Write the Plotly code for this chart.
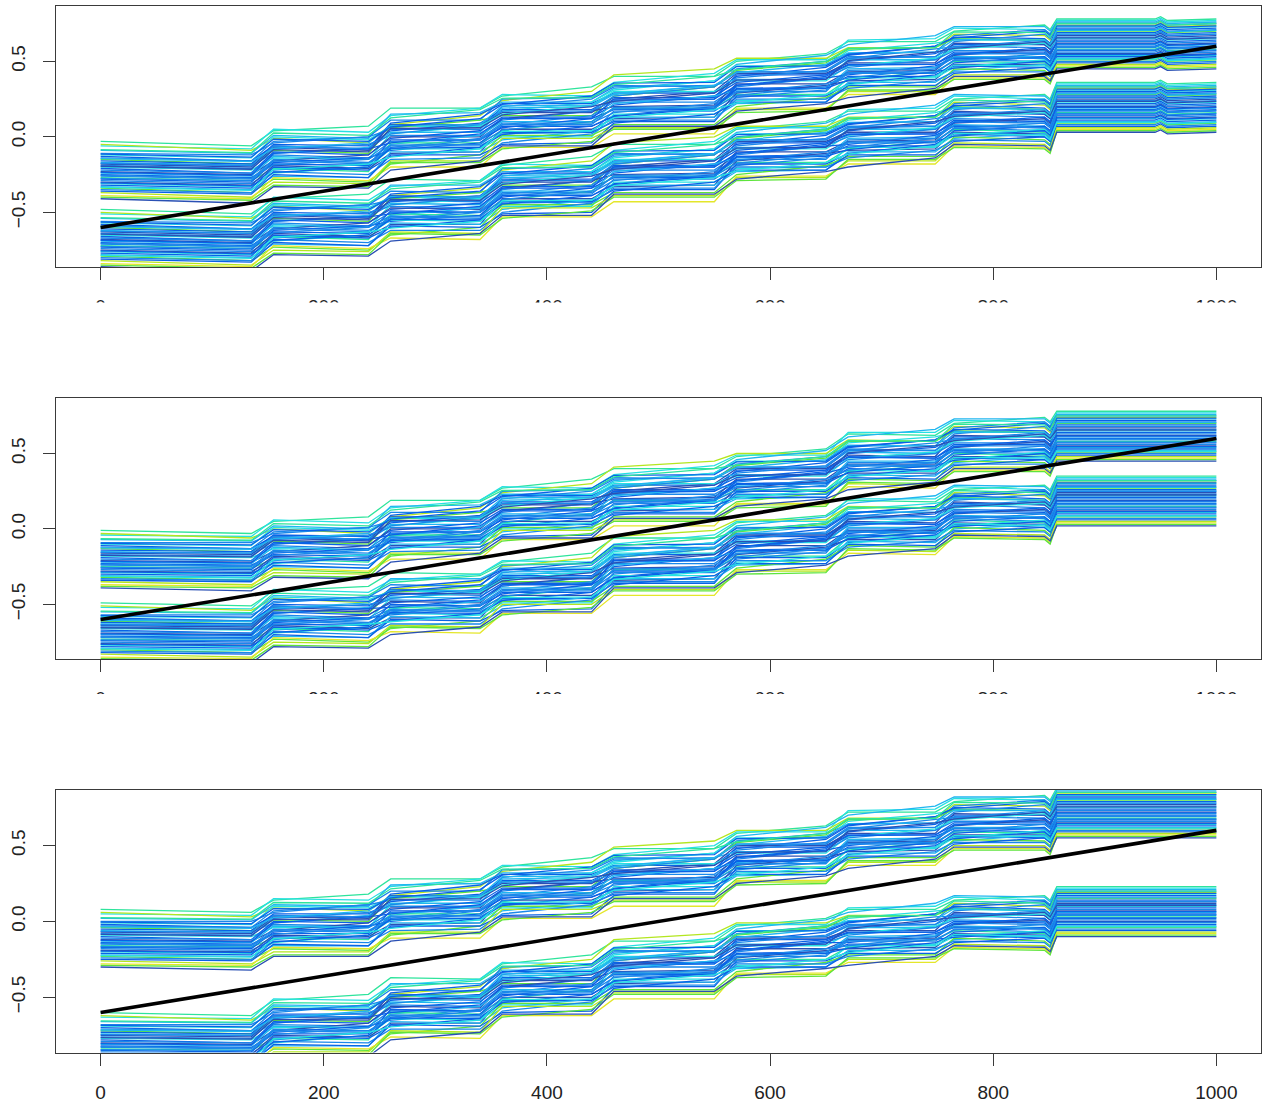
import plotly.graph_objects as go

# ---------------- data ----------------
# x positions where the band centres were read
KNOTS = [0, 135, 155, 240, 260, 340, 360, 440, 460, 550, 570, 650, 670, 748, 765,
         846, 851, 857, 872, 945, 950, 956, 1000]
# which offset column (plateau start / plateau end) each knot uses
COLUMN = [0, 1, 2, 3, 4, 5, 6, 7, 8, 9, 10, 11, 12, 13, 14, 15, 15, 16, 16, 17, 17, 17, 17]

# band centres, panel 1
P1_UPPER = [-0.22, -0.24, -0.13, -0.12, -0.01, 0.02, 0.11, 0.14, 0.22, 0.25, 0.35, 0.38,
            0.46, 0.49, 0.56, 0.58, 0.55, 0.63, 0.63, 0.63, 0.645, 0.62, 0.63]
P1_LOWER = [-0.67, -0.69, -0.58, -0.57, -0.48, -0.46, -0.35, -0.32, -0.23, -0.20, -0.10, -0.07,
            0.00, 0.03, 0.11, 0.12, 0.09, 0.21, 0.21, 0.21, 0.225, 0.20, 0.21]
# panel 2
P2_UPPER = [-0.20, -0.21, -0.12, -0.11, -0.01, 0.02, 0.11, 0.14, 0.22, 0.25, 0.33, 0.36,
            0.46, 0.48, 0.56, 0.58, 0.55, 0.63, 0.63, 0.63, 0.63, 0.63, 0.63]
P2_LOWER = [-0.68, -0.69, -0.58, -0.57, -0.49, -0.47, -0.38, -0.35, -0.24, -0.21, -0.11, -0.08,
            0.02, 0.04, 0.12, 0.13, 0.10, 0.20, 0.20, 0.20, 0.20, 0.20, 0.20]
# panel 3
P3_UPPER = [-0.11, -0.12, -0.03, -0.01, 0.08, 0.11, 0.20, 0.23, 0.30, 0.33, 0.43, 0.46,
            0.55, 0.58, 0.65, 0.67, 0.64, 0.73, 0.73, 0.73, 0.73, 0.73, 0.73]
P3_LOWER = [-0.79, -0.80, -0.69, -0.67, -0.57, -0.55, -0.44, -0.41, -0.31, -0.28, -0.18, -0.15,
            -0.09, -0.06, 0.00, 0.01, -0.02, 0.08, 0.08, 0.08, 0.08, 0.08, 0.08]

# per-line offset from the band centre, at the start and end of each plateau
OFFSETS = [
    [0.19, 0.18, 0.17, 0.19, 0.20, 0.17, 0.16, 0.19, 0.18, 0.15, 0.15, 0.17, 0.17, 0.14, 0.14, 0.16, 0.15, 0.15],
    [0.16, 0.16, 0.18, 0.15, 0.15, 0.17, 0.17, 0.13, 0.14, 0.17, 0.16, 0.13, 0.18, 0.16, 0.16, 0.13, 0.14, 0.14],
    [0.17, 0.15, 0.12, 0.08, 0.09, 0.12, 0.13, 0.16, 0.19, 0.20, 0.17, 0.14, 0.13, 0.10, 0.12, 0.09, 0.11, 0.11],
    [0.13, 0.13, 0.14, 0.11, 0.16, 0.14, 0.12, 0.09, 0.10, 0.12, 0.13, 0.16, 0.15, 0.18, 0.17, 0.15, 0.13, 0.13],
    [0.11, 0.12, 0.09, 0.12, 0.12, 0.09, 0.14, 0.12, 0.12, 0.08, 0.10, 0.12, 0.09, 0.07, 0.11, 0.13, 0.12, 0.12],
    [0.10, 0.10, 0.13, 0.10, 0.08, 0.05, 0.06, 0.09, 0.09, 0.12, 0.12, 0.09, 0.11, 0.13, 0.08, 0.06, 0.10, 0.10],
    [0.09, 0.08, 0.07, 0.04, 0.10, 0.13, 0.11, 0.08, 0.07, 0.04, 0.05, 0.08, 0.08, 0.11, 0.10, 0.07, 0.09, 0.09],
    [0.08, 0.08, 0.10, 0.12, 0.06, 0.03, 0.09, 0.11, 0.11, 0.09, 0.08, 0.05, 0.06, 0.04, 0.07, 0.10, 0.08, 0.08],
    [0.07, 0.06, 0.04, 0.01, 0.07, 0.09, 0.03, 0.00, 0.05, 0.08, 0.09, 0.11, 0.12, 0.10, 0.09, 0.06, 0.07, 0.07],
    [0.06, 0.06, 0.08, 0.06, 0.05, 0.07, 0.07, 0.04, 0.04, 0.01, 0.06, 0.03, 0.04, 0.06, 0.05, 0.03, 0.06, 0.06],
    [0.05, 0.05, 0.02, 0.05, 0.04, 0.01, 0.08, 0.06, 0.06, 0.09, 0.03, 0.00, 0.05, 0.02, 0.03, 0.05, 0.05, 0.05],
    [0.04, 0.04, 0.06, 0.03, 0.09, 0.06, 0.05, 0.02, 0.03, 0.05, 0.07, 0.04, 0.03, 0.00, 0.06, 0.03, 0.04, 0.04],
    [0.03, 0.03, 0.05, 0.07, 0.02, -0.01, 0.00, 0.03, 0.02, 0.00, 0.04, 0.06, 0.07, 0.04, 0.04, 0.01, 0.03, 0.03],
    [0.02, 0.02, -0.01, -0.03, 0.03, 0.05, 0.04, 0.07, 0.08, 0.05, 0.02, -0.01, 0.01, 0.03, 0.02, 0.04, 0.02, 0.02],
    [0.01, 0.00, 0.03, 0.00, 0.00, 0.02, 0.02, -0.01, -0.01, 0.02, 0.01, 0.03, 0.02, -0.01, 0.00, -0.02, 0.01, 0.01],
    [0.00, 0.00, 0.01, -0.02, -0.02, -0.04, -0.03, 0.00, 0.01, -0.02, -0.02, 0.01, 0.00, 0.02, 0.01, -0.01, 0.00, 0.00],
    [-0.01, -0.01, -0.03, 0.00, 0.01, -0.02, 0.01, 0.03, -0.02, -0.04, 0.00, -0.03, -0.03, -0.05, -0.02, 0.00, -0.01, -0.01],
    [-0.02, -0.02, 0.00, -0.03, -0.04, -0.01, -0.01, -0.04, 0.00, 0.02, -0.04, -0.06, -0.01, -0.03, -0.03, -0.05, -0.02, -0.02],
    [-0.03, -0.03, -0.05, -0.07, -0.01, -0.04, -0.05, -0.02, -0.04, -0.07, -0.01, 0.01, -0.05, -0.02, -0.04, -0.06, -0.03, -0.03],
    [-0.04, -0.04, -0.02, -0.05, -0.06, -0.03, -0.02, -0.05, -0.06, -0.03, -0.05, -0.08, -0.02, -0.04, -0.01, -0.03, -0.04, -0.04],
    [-0.05, -0.05, -0.08, -0.11, -0.03, -0.06, -0.07, -0.04, -0.03, -0.06, -0.07, -0.10, -0.08, -0.06, -0.06, -0.09, -0.05, -0.05],
    [-0.06, -0.06, -0.04, -0.02, -0.08, -0.06, -0.04, -0.07, -0.08, -0.05, -0.03, -0.05, -0.06, -0.09, -0.07, -0.05, -0.06, -0.06],
    [-0.07, -0.07, -0.09, -0.06, -0.05, -0.08, -0.09, -0.11, -0.05, -0.08, -0.09, -0.07, -0.04, -0.07, -0.05, -0.08, -0.07, -0.07],
    [-0.08, -0.08, -0.06, -0.09, -0.10, -0.12, -0.06, -0.09, -0.10, -0.12, -0.06, -0.04, -0.09, -0.11, -0.08, -0.10, -0.08, -0.08],
    [-0.09, -0.09, -0.11, -0.08, -0.07, -0.10, -0.11, -0.14, -0.07, -0.10, -0.11, -0.13, -0.07, -0.10, -0.10, -0.07, -0.09, -0.09],
    [-0.10, -0.10, -0.07, -0.10, -0.12, -0.09, -0.08, -0.11, -0.12, -0.15, -0.08, -0.11, -0.11, -0.08, -0.09, -0.12, -0.10, -0.10],
    [-0.11, -0.11, -0.13, -0.15, -0.09, -0.12, -0.13, -0.10, -0.09, -0.12, -0.13, -0.15, -0.10, -0.13, -0.12, -0.10, -0.11, -0.11],
    [-0.12, -0.13, -0.15, -0.18, -0.17, -0.14, -0.10, -0.13, -0.14, -0.17, -0.15, -0.12, -0.13, -0.16, -0.11, -0.14, -0.12, -0.12],
    [-0.13, -0.13, -0.10, -0.13, -0.14, -0.16, -0.15, -0.12, -0.11, -0.14, -0.10, -0.13, -0.14, -0.12, -0.13, -0.15, -0.13, -0.13],
    [-0.14, -0.14, -0.12, -0.15, -0.11, -0.14, -0.16, -0.18, -0.13, -0.10, -0.12, -0.15, -0.12, -0.15, -0.14, -0.12, -0.14, -0.14],
    [-0.15, -0.16, -0.17, -0.19, -0.15, -0.18, -0.12, -0.15, -0.16, -0.19, -0.17, -0.20, -0.16, -0.19, -0.15, -0.17, -0.15, -0.15],
    [-0.17, -0.17, -0.14, -0.17, -0.19, -0.22, -0.18, -0.21, -0.20, -0.23, -0.16, -0.19, -0.18, -0.21, -0.17, -0.19, -0.16, -0.16],
    [-0.18, -0.18, -0.19, -0.21, -0.16, -0.19, -0.19, -0.17, -0.17, -0.20, -0.19, -0.21, -0.15, -0.18, -0.18, -0.20, -0.17, -0.17],
    [-0.19, -0.20, -0.20, -0.22, -0.21, -0.18, -0.17, -0.20, -0.15, -0.18, -0.18, -0.16, -0.20, -0.17, -0.16, -0.18, -0.18, -0.18],
    [0.045, 0.05, 0.07, 0.04, 0.03, 0.06, 0.06, 0.03, 0.05, 0.08, 0.08, 0.05, 0.06, 0.09, 0.035, 0.06, 0.05, 0.05],
    [-0.015, -0.015, 0.02, 0.04, -0.03, 0.00, 0.01, -0.02, 0.03, 0.00, -0.01, 0.02, 0.015, -0.01, -0.015, 0.01, -0.015, -0.015],
    [-0.055, -0.05, -0.03, -0.06, -0.07, -0.04, -0.03, -0.06, -0.025, -0.05, -0.055, -0.03, -0.07, -0.04, -0.035, -0.06, -0.055, -0.055],
    [0.075, 0.075, 0.055, 0.08, 0.085, 0.06, 0.095, 0.07, 0.065, 0.09, 0.075, 0.10, 0.095, 0.07, 0.085, 0.06, 0.075, 0.075],
    [-0.085, -0.085, -0.105, -0.08, -0.065, -0.09, -0.095, -0.07, -0.085, -0.06, -0.035, -0.06, -0.085, -0.06, -0.105, -0.08, -0.085, -0.085],
    [0.025, 0.025, 0.045, 0.02, 0.065, 0.04, 0.035, 0.06, 0.015, 0.04, 0.025, 0.00, 0.045, 0.07, 0.025, 0.05, 0.025, 0.025],
    [-0.035, -0.035, -0.055, -0.03, -0.045, -0.07, -0.065, -0.04, -0.035, -0.06, -0.075, -0.05, -0.035, -0.06, -0.055, -0.03, -0.035, -0.035],
    [-0.115, -0.115, -0.085, -0.06, -0.125, -0.10, -0.075, -0.10, -0.095, -0.07, -0.125, -0.10, -0.115, -0.09, -0.085, -0.11, -0.115, -0.115],
    [0.105, 0.105, 0.115, 0.09, 0.075, 0.10, 0.105, 0.13, 0.135, 0.11, 0.115, 0.09, 0.085, 0.11, 0.095, 0.12, 0.105, 0.105],
    [0.135, 0.135, 0.155, 0.13, 0.135, 0.16, 0.145, 0.12, 0.125, 0.15, 0.095, 0.12, 0.125, 0.10, 0.135, 0.11, 0.12, 0.12],
]
# colour class of each line (0 = yellow ... 8 = dark blue)
LINE_CLASS = [3, 4, 1, 5, 6, 4, 7, 6, 2, 7, 5, 8, 6, 4, 7, 6, 8, 5, 7, 6, 3, 7, 6, 8,
              4, 7, 5, 2, 6, 7, 1, 0, 2, 8, 6, 7, 6, 5, 7, 8, 6, 4, 7, 3]

# reference straight line
REF_X = [0, 1000]
REF_Y = [-0.6, 0.6]

X_TICKS = [0, 200, 400, 600, 800, 1000]
Y_TICKS = [-0.5, 0.0, 0.5]
Y_TICK_TEXT = ["\u22120.5", "0.0", "0.5"]

PANELS = [(P1_UPPER, P1_LOWER), (P2_UPPER, P2_LOWER), (P3_UPPER, P3_LOWER)]

# ---------------- style ----------------
PALETTE = ["#e4e62a", "#b4e620", "#5ee43c", "#2ee49c", "#26e0e2",
           "#20b6f0", "#1a88ea", "#0a62e6", "#2a50b4"]

W, H = 1274, 1106
# panel pixel boxes (top, bottom)
BOXES = [(6.0, 267.3), (398.3, 659.3), (790.0, 1052.6)]
X_LEFT, X_RIGHT = 56.0, 1261.0
CUTS = [302.5, 694.0]

fig = go.Figure()

for p, (upper, lower) in enumerate(PANELS):
    xa = "x" if p == 0 else f"x{p + 1}"
    ya = "y" if p == 0 else f"y{p + 1}"
    for centre in (upper, lower):
        for j in range(len(OFFSETS)):
            ys = [centre[k] + OFFSETS[j][COLUMN[k]] for k in range(len(KNOTS))]
            fig.add_trace(go.Scatter(
                x=KNOTS, y=ys, mode="lines", xaxis=xa, yaxis=ya,
                line=dict(color=PALETTE[LINE_CLASS[j]], width=1.3),
                showlegend=False, hoverinfo="skip"))
    fig.add_trace(go.Scatter(
        x=REF_X, y=REF_Y, mode="lines", xaxis=xa, yaxis=ya,
        line=dict(color="black", width=3.6), showlegend=False, hoverinfo="skip"))

axis_common = dict(
    showline=True, mirror=True, linecolor="#3a3a3a", linewidth=1.3,
    ticks="outside", ticklen=12, tickwidth=1.2, tickcolor="#3a3a3a",
    showgrid=False, zeroline=False,
    tickfont=dict(family="Liberation Sans, Arial, sans-serif", size=19, color="#222"),
)

layout = dict(width=W, height=H, margin=dict(l=0, r=0, t=0, b=0),
              paper_bgcolor="white", plot_bgcolor="white")
for p, (top, bot) in enumerate(BOXES):
    sx = "" if p == 0 else str(p + 1)
    layout["xaxis" + sx] = dict(
        axis_common, domain=[X_LEFT / W, X_RIGHT / W], range=[-40, 1040],
        tickvals=X_TICKS, ticktext=[str(v) for v in X_TICKS],
        anchor="y" + sx, ticklabelstandoff=10)
    layout["yaxis" + sx] = dict(
        axis_common, domain=[1 - bot / H, 1 - top / H], range=[-0.864, 0.866],
        tickvals=Y_TICKS, ticktext=Y_TICK_TEXT, tickangle=-90,
        anchor="x" + sx, ticklabelstandoff=10)

shapes = []
for c in CUTS:
    shapes.append(dict(type="rect", xref="paper", yref="paper", layer="above",
                       x0=0, x1=1, y0=1 - (c + 30) / H, y1=1 - c / H,
                       fillcolor="white", line=dict(width=0)))
layout["shapes"] = shapes

fig.update_layout(**layout)
fig.write_html("out.html")
